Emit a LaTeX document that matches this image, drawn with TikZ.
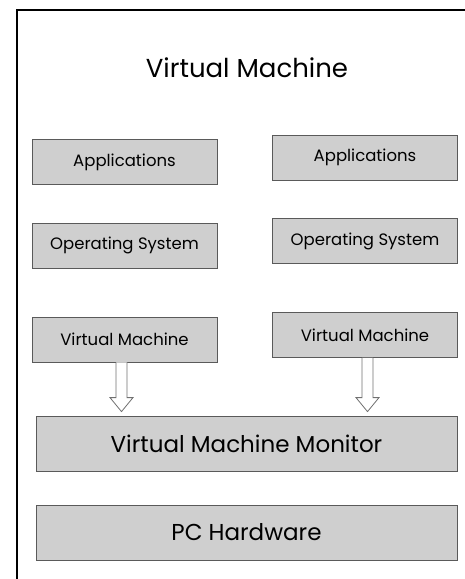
\documentclass[tikz,border=0pt]{standalone}
\usepackage{fontspec}
\setmainfont{Poppins}
\usetikzlibrary{positioning}

\definecolor{boxfill}{HTML}{CFCFCF}
\definecolor{boxline}{HTML}{5A5A5A}
\definecolor{arrowline}{HTML}{707070}

\begin{document}
\begin{tikzpicture}[x=1pt, y=-1pt,
		layer/.style={draw=boxline, fill=boxfill, line width=0.8pt, inner sep=0pt,
			minimum width=185pt, minimum height=45pt, font=\fontsize{16.5}{18}\selectfont},
		wide layer/.style={layer, minimum width=421pt, minimum height=55pt,
			font=\fontsize{23}{26}\selectfont},
		hollow arrow/.style={draw=arrowline, fill=white, line width=0.8pt, line join=miter}]

		\useasboundingbox (0,0) rectangle (465,579);

		% frame
		\draw [line width=1.4pt] (17,579) -- (17,10) -- (465,10);

		% heading
		\node [font=\fontsize{26}{30}\selectfont] (title) at (247,68) {Virtual Machine};

		% left stack
		\foreach \m/\l/\y in {appA/Applications/162, osA/Operating System/245.5, vmA/Virtual Machine/339.5}
			\node [layer] (\m) at (124.5,\y) {\l};

		% right stack
		\foreach \m/\l/\y in {appB/Applications/157.5, osB/Operating System/241, vmB/Virtual Machine/335}
			\node [layer] (\m) at (365,\y) {\l};

		% monitor and hardware
		\node [wide layer] (vmm) at (246.5,443.5) {Virtual Machine Monitor};
		\node [wide layer] (pc) at (246.5,532.5) {PC Hardware};

		% arrows from virtual machines to monitor
		\foreach \n/\dx in {vmA/-3, vmB/2.5}
			\draw [hollow arrow]
				([xshift=\dx pt-5.5pt]\n.south)
				-- ([xshift=\dx pt-5.5pt, yshift=18pt]\n.south |- vmm.north)
				-- ([xshift=\dx pt-11.5pt, yshift=18pt]\n.south |- vmm.north)
				-- ([xshift=\dx pt, yshift=4pt]\n.south |- vmm.north)
				-- ([xshift=\dx pt+11.5pt, yshift=18pt]\n.south |- vmm.north)
				-- ([xshift=\dx pt+5.5pt, yshift=18pt]\n.south |- vmm.north)
				-- ([xshift=\dx pt+5.5pt]\n.south);

\end{tikzpicture}
\end{document}
